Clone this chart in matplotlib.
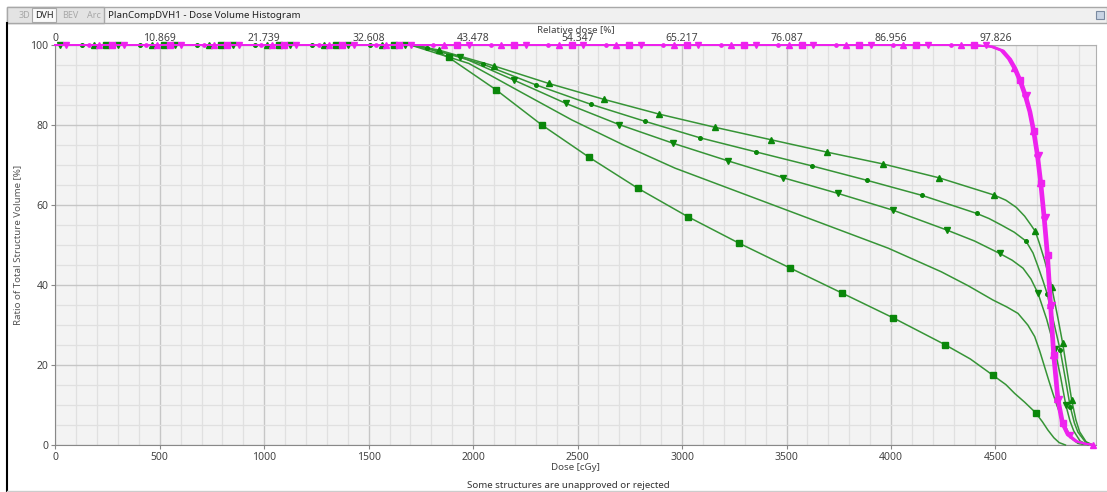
import matplotlib
matplotlib.use('Agg')
import matplotlib.pyplot as plt
from matplotlib.patches import Rectangle
from matplotlib.lines import Line2D
from matplotlib.ticker import MultipleLocator

plt.rcParams['font.family'] = ['Noto Sans', 'DejaVu Sans']

# eixos
dose_ticks = [0, 500, 1000, 1500, 2000, 2500, 3000, 3500, 4000, 4500]
rel_labels = ['0', '10.869', '21.739', '32.608', '43.478', '54.347',
              '65.217', '76.087', '86.956', '97.826']
vol_ticks = [0, 20, 40, 60, 80, 100]
dose_max = 4980

# curvas verdes (dose [cGy], volume [%])
g_tri_dose = [0, 1700, 1835, 2098, 2361, 2627, 2892, 3160, 3427, 3695, 3963, 4230,
              4493, 4550, 4600, 4640, 4670, 4691, 4710, 4735, 4769, 4800, 4822, 4845,
              4865, 4885, 4903, 4934, 4966]
g_tri_vol = [100, 100, 98.75, 94.8, 90.4, 86.4, 82.7, 79.4, 76.3, 73.2, 70.25, 66.8,
             62.5, 61.2, 59.4, 57.2, 55, 53.4, 50.5, 46.25, 39.6, 31.5, 25.4, 17.8,
             11.25, 6.3, 3.3, 0.8, 0]
g_tri_mk_dose = [187, 462, 737, 1012, 1287, 1562, 1835, 2098, 2361, 2627, 2892, 3160,
                 3427, 3695, 3963, 4230, 4493, 4691, 4769, 4822, 4865]
g_tri_mk_vol = [100] * 6 + [98.75, 94.8, 90.4, 86.4, 82.7, 79.4, 76.3, 73.2, 70.25,
                            66.8, 62.5, 53.4, 39.6, 25.4, 11.25]

g_dot_dose = [0, 1720, 1780, 2047, 2302, 2562, 2824, 3086, 3352, 3620, 3883, 4149,
              4410, 4470, 4528, 4590, 4646, 4680, 4704, 4728, 4748, 4780, 4810, 4835,
              4858, 4878, 4895, 4930, 4962]
g_dot_vol = [100, 100, 99.3, 95.2, 90, 85.2, 80.9, 76.8, 73.3, 69.8, 66.2, 62.4,
             57.9, 56.6, 55, 53.2, 51, 48, 44.6, 41, 37.75, 30.5, 23.75, 16.5,
             9.6, 5.5, 3.2, 0.8, 0]
g_dot_mk_dose = [130, 405, 680, 955, 1230, 1505, 1780, 2047, 2302, 2562, 2824, 3086,
                 3352, 3620, 3883, 4149, 4410, 4646, 4748, 4810, 4858]
g_dot_mk_vol = [100] * 6 + [99.3, 95.2, 90, 85.2, 80.9, 76.8, 73.3, 69.8, 66.2,
                            62.4, 57.9, 51, 37.75, 23.75, 9.6]

g_dtri_dose = [0, 1700, 1939, 2194, 2444, 2699, 2959, 3222, 3485, 3746, 4010, 4267,
               4400, 4520, 4580, 4632, 4670, 4704, 4745, 4784, 4812, 4837, 4857, 4875,
               4905, 4945]
g_dtri_vol = [100, 100, 97.1, 91.25, 85.4, 80.1, 75.4, 71, 66.8, 62.9, 58.7, 53.75,
              51, 47.9, 46.2, 44.2, 41.5, 37.9, 31.5, 24, 17, 10, 6, 3.5, 1, 0]
g_dtri_mk_dose = [24, 299, 574, 849, 1124, 1399, 1674, 1939, 2194, 2444, 2699, 2959,
                  3222, 3485, 3746, 4010, 4267, 4520, 4704, 4784, 4837]
g_dtri_mk_vol = [100] * 7 + [97.1, 91.25, 85.4, 80.1, 75.4, 71, 66.8, 62.9, 58.7,
                             53.75, 47.9, 37.9, 24, 10]

g_plain_dose = [0, 1700, 1979, 2226, 2473, 2720, 2967, 3222, 3477, 3732, 3987, 4241,
                4370, 4488, 4555, 4608, 4655, 4688, 4712, 4735, 4755, 4775, 4795, 4815,
                4847, 4870, 4895, 4935]
g_plain_vol = [100, 100, 95.4, 88.3, 81.25, 75, 69.2, 64.2, 59.2, 54.2, 49.2, 43.3,
               39.8, 36.25, 34.5, 32.9, 30, 27.1, 23.5, 19.6, 16.2, 12.9, 9.8, 7.1,
               3.3, 1.4, 0.4, 0]

g_sq_dose = [0, 1700, 1790, 1883, 2111, 2329, 2556, 2788, 3027, 3271, 3519, 3765,
             4012, 4258, 4380, 4489, 4550, 4592, 4640, 4692, 4725, 4751, 4780, 4805, 4835]
g_sq_vol = [100, 100, 99.2, 96.9, 88.75, 80, 71.9, 64.2, 57.1, 50.5, 44.2, 38,
            31.75, 25.1, 21.5, 17.4, 15.1, 12.9, 10.7, 8.1, 5.8, 3.75, 1.8, 0.6, 0]
g_sq_mk_dose = [244, 519, 794, 1069, 1344, 1619, 1883, 2111, 2329, 2556, 2788, 3027,
                3271, 3519, 3765, 4012, 4258, 4489, 4692]
g_sq_mk_vol = [100] * 6 + [96.9, 88.75, 80, 71.9, 64.2, 57.1, 50.5, 44.2, 38,
                           31.75, 25.1, 17.4, 8.1]

# curvas magenta
mag_vol = [100, 100, 99.6, 98.6, 96.5, 94.2, 91.2, 87.5, 83.3, 78.5, 72.5, 65.5,
           57, 47.5, 35, 22.5, 11.5, 5.5, 2.5, 0.9, 0.3, 0]
m_tri_dose = [0, 4380, 4480, 4530, 4565, 4590, 4615, 4640, 4662, 4680, 4698, 4714,
              4730, 4746, 4761, 4776, 4796, 4818, 4845, 4885, 4930, 4968]
m_dot_dose = [0, 4370, 4475, 4525, 4560, 4585, 4610, 4635, 4658, 4676, 4694, 4710,
              4726, 4742, 4757, 4772, 4792, 4814, 4842, 4882, 4928, 4968]
m_sq_dose = [0, 4385, 4485, 4535, 4570, 4595, 4620, 4645, 4667, 4685, 4703, 4719,
             4735, 4751, 4766, 4781, 4801, 4823, 4850, 4890, 4934, 4968]
m_dtri_dose = [0, 4390, 4490, 4540, 4575, 4600, 4625, 4650, 4672, 4690, 4708, 4724,
               4740, 4756, 4771, 4786, 4806, 4828, 4855, 4893, 4936, 4968]

m_tri_mk_dose = [210, 485, 760, 1035, 1310, 1585, 1860, 2135, 2410, 2685, 2960, 3235,
                 3510, 3785, 4060, 4335, 4590, 4680, 4714, 4746, 4761, 4776, 4796, 4968]
m_tri_mk_vol = [100] * 16 + [94.2, 78.5, 65.5, 47.5, 35, 22.5, 11.5, 0]
m_sq_mk_dose = [272, 547, 822, 1097, 1372, 1647, 1922, 2197, 2472, 2747, 3022, 3297,
                3572, 3847, 4122, 4397, 4620, 4685, 4719, 4751, 4781, 4823]
m_sq_mk_vol = [100] * 16 + [91.2, 78.5, 65.5, 47.5, 22.5, 5.5]
m_dtri_mk_dose = [53, 328, 603, 878, 1153, 1428, 1703, 1978, 2253, 2528, 2803, 3078,
                  3353, 3628, 3903, 4178, 4453, 4650, 4708, 4740, 4771, 4806, 4855]
m_dtri_mk_vol = [100] * 17 + [87.5, 72.5, 57, 35, 11.5, 2.5]
m_dot_mk_dose = [160, 435, 710, 985, 1260, 1535, 1810, 2085, 2360, 2635, 2910, 3185,
                 3460, 3735, 4010, 4285, 4635, 4694, 4726, 4757, 4792]
m_dot_mk_vol = [100] * 16 + [87.5, 72.5, 57, 35, 11.5]

verde_linha = '#369436'
verde = '#0a870a'
magenta = '#ee22ee'

fig = plt.figure(figsize=(11.07, 4.92), dpi=100)
W, H = 1107, 492
ax = fig.add_axes([55.3 / W, 1 - 445 / H, (1095.7 - 55.3) / W, 400 / H])
ax.set_facecolor('#f3f3f3')

# curvas verdes
ax.plot(g_plain_dose, g_plain_vol, color=verde_linha, lw=1.1, zorder=3)
for d, v, md, mv, m, ms in [
        (g_tri_dose, g_tri_vol, g_tri_mk_dose, g_tri_mk_vol, '^', 4.2),
        (g_dot_dose, g_dot_vol, g_dot_mk_dose, g_dot_mk_vol, 'o', 2.6),
        (g_dtri_dose, g_dtri_vol, g_dtri_mk_dose, g_dtri_mk_vol, 'v', 4.2),
        (g_sq_dose, g_sq_vol, g_sq_mk_dose, g_sq_mk_vol, 's', 4.3)]:
    ax.plot(d, v, color=verde_linha, lw=1.1, zorder=3, clip_on=False)
    ax.plot(md, mv, ls='none', marker=m, ms=ms, color=verde, mec=verde,
            zorder=4, clip_on=False)

# curvas magenta
for d, md, mv, m, ms in [
        (m_dot_dose, m_dot_mk_dose, m_dot_mk_vol, 'o', 2.4),
        (m_tri_dose, m_tri_mk_dose, m_tri_mk_vol, '^', 4),
        (m_sq_dose, m_sq_mk_dose, m_sq_mk_vol, 's', 4),
        (m_dtri_dose, m_dtri_mk_dose, m_dtri_mk_vol, 'v', 4)]:
    ax.plot(d, mag_vol, color=magenta, lw=1.3, zorder=5, clip_on=False)
    ax.plot(md, mv, ls='none', marker=m, ms=ms, color=magenta, mec=magenta,
            zorder=6, clip_on=False)

ax.set_xlim(0, dose_max)
ax.set_ylim(0, 100)
ax.set_xticks(dose_ticks)
ax.set_yticks(vol_ticks)
ax.xaxis.set_minor_locator(MultipleLocator(100))
ax.yaxis.set_minor_locator(MultipleLocator(5))
ax.grid(True, which='major', color='#c6c6c6', lw=1.0, zorder=0)
ax.grid(True, which='minor', color='#e0e0e0', lw=0.9, zorder=0)
ax.set_axisbelow(True)
ax.tick_params(which='major', labelsize=7.5, labelcolor='#444444', color='#888888',
               length=3, pad=2)
ax.tick_params(which='minor', length=0)
for s in ax.spines.values():
    s.set_color('#b0b0b0')
ax.spines['left'].set_color('#888888')
ax.spines['bottom'].set_color('#888888')

ax.set_xlabel('Dose [cGy]', fontsize=7, color='#444444', labelpad=0)
ax.set_ylabel('Ratio of Total Structure Volume [%]', fontsize=7, color='#555555',
              labelpad=6)

top = ax.secondary_xaxis('top')
top.set_xticks(dose_ticks, labels=rel_labels)
top.tick_params(length=0, pad=0.5, labelsize=7.5, labelcolor='#444444')
top.spines['top'].set_visible(False)
top.set_xlabel('Relative dose [%]', fontsize=7, color='#444444', labelpad=0.5)

# cabeçalho e moldura
fig.add_artist(Rectangle((7 / W, 1 - 23 / H), 1100 / W, 16 / H, transform=fig.transFigure,
                         facecolor='#f0f0f0', edgecolor='#a8a8a8', lw=1))
fig.add_artist(Rectangle((7 / W, 1 - 23 / H), 97 / W, 16 / H, transform=fig.transFigure,
                         facecolor='#e3e3e3', edgecolor='#a8a8a8', lw=1))
fig.add_artist(Rectangle((32 / W, 1 - 22 / H), 24 / W, 14 / H, transform=fig.transFigure,
                         facecolor='#fafafa', edgecolor='#a8a8a8', lw=0.8))
fig.text(19 / W, 1 - 15 / H, '3D', fontsize=6.5, color='#a8a8a8', va='center')
fig.text(35 / W, 1 - 15 / H, 'DVH', fontsize=6.5, color='#222222', va='center')
fig.text(62 / W, 1 - 15 / H, 'BEV', fontsize=6.5, color='#a8a8a8', va='center')
fig.text(87 / W, 1 - 15 / H, 'Arc', fontsize=6.5, color='#a8a8a8', va='center')
fig.text(108 / W, 1 - 15 / H, 'PlanCompDVH1 - Dose Volume Histogram', fontsize=7,
         color='#222222', va='center')
fig.add_artist(Rectangle((1096 / W, 1 - 19 / H), 8 / W, 8 / H, transform=fig.transFigure,
                         facecolor='#c8d4e4', edgecolor='#7a8aa0', lw=0.8))
fig.add_artist(Line2D([7 / W, 7 / W], [0, 1 - 23 / H], transform=fig.transFigure,
                      color='black', lw=1.5))
fig.add_artist(Line2D([7 / W, 1], [1.5 / H, 1.5 / H], transform=fig.transFigure,
                      color='#cccccc', lw=1))

fig.text(568 / W, 1 - 486 / H, 'Some structures are unapproved or rejected',
         fontsize=7, color='#333333', ha='center', va='center')

fig.savefig('out.png', dpi=100, facecolor='white')
